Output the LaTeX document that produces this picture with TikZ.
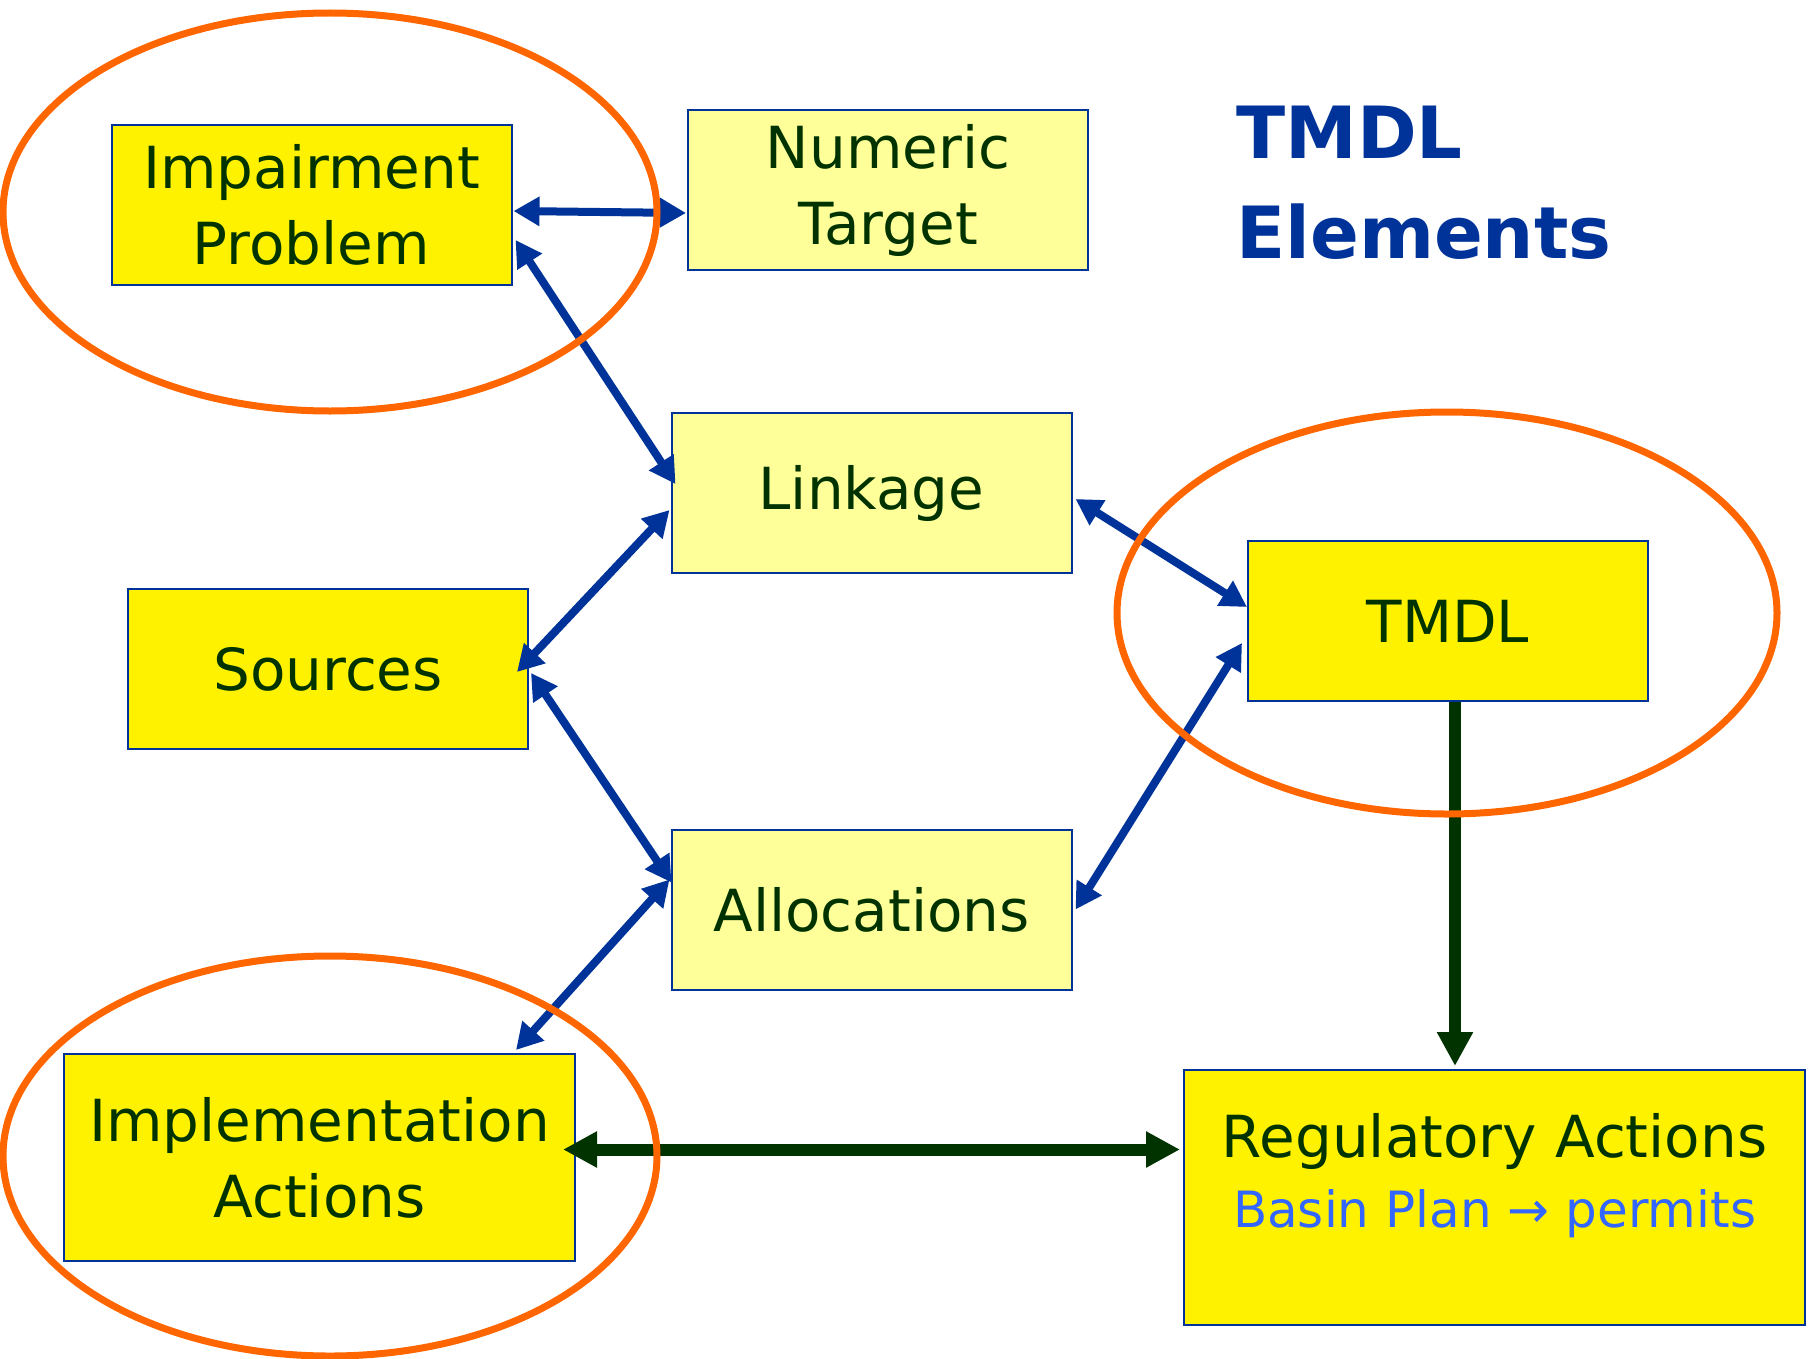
\documentclass[tikz,border=0pt]{standalone}
\usepackage{fontspec}
\setmainfont{DejaVu Sans}
\usetikzlibrary{arrows.meta,calc}

\definecolor{boxblue}{HTML}{003399}
\definecolor{textgreen}{HTML}{003300}
\definecolor{ringorange}{HTML}{FF6600}
\definecolor{paleyellow}{HTML}{FFFF99}
\definecolor{planblue}{HTML}{3366FF}

\tikzset{
  elembox/.style={draw=boxblue, line width=1pt, fill=#1, minimum width=200pt, minimum height=80pt,
    inner sep=0pt, align=center, text=textgreen, font=\fontsize{29}{38}\selectfont},
  elembox/.default=yellow,
  blueline/.style={draw=boxblue, line width=4pt,
    {Triangle[length=13pt,width=14pt]}-{Triangle[length=13pt,width=14pt]}},
  greenline/.style={draw=textgreen, line width=6pt},
  greentip/.tip={Triangle[length=17pt,width=17pt]},
  ring/.style={draw=ringorange, line width=3.5pt}
}

\begin{document}
\begin{tikzpicture}[x=0.5pt,y=-0.5pt]
  \useasboundingbox (0,0) rectangle (1814,1359);

  % boxes
  \node[elembox] (imp) at (311.5,205) {Impairment\\Problem};
  \node[elembox=paleyellow] (num) at (888,190) {Numeric\\Target};
  \node[elembox=paleyellow] (linkage) at (871.5,493) {Linkage};
  \node[elembox] (src) at (328,669) {Sources};
  \node[elembox] (tmdl) at (1448,621) {TMDL};
  \node[elembox=paleyellow] (alloc) at (871.5,909.5) {Allocations};
  \node[elembox, minimum width=255.5pt, minimum height=103.5pt] (impl) at (319.5,1157.5) {Implementation\\Actions};
  \node[elembox, minimum width=310.5pt, minimum height=127.5pt,
    label={[anchor=north, inner sep=0pt, yshift=-22pt, align=center, text=textgreen,
      font=\fontsize{29}{35}\selectfont]north:{Regulatory Actions\\{\color{planblue}\fontsize{25}{30}\selectfont Basin Plan → permits}}}] (reg) at (1494.5,1197.5) {};

  % title
  \node[anchor=north west, inner sep=0pt, align=left, text=boxblue,
    font=\fontsize{36}{50}\selectfont\bfseries] (title) at (1236,106) {TMDL\\Elements};

  % blue links
  \draw[blueline] ($(imp.east)+(1,6)$) -- ($(num.west)+(-1,23)$);
  \draw[blueline] ($(imp.east)+(3,35)$) -- ($(linkage.west)+(5,-9)$);
  \draw[blueline] ($(src.east)+(-12,3)$) -- ($(linkage.west)+(-1,17)$);
  \draw[blueline] ($(linkage.east)+(3,6)$) -- ($(tmdl.west)+(0,-14)$);
  \draw[blueline] ($(src.east)+(2,4)$) -- ($(alloc.west)+(1,-27)$);
  \draw[blueline] ($(alloc.east)+(3,0)$) -- ($(tmdl.west)+(-5,22)$);
  \draw[blueline] ($(alloc.west)+(-1,-30)$) -- ($(impl.north east)+(-60,-3)$);

  % green arrows
  \draw[greenline,-greentip] ($(tmdl.south)+(7,0)$) -- ($(reg.north)+(-39.5,-3)$);
  \draw[greenline,greentip-greentip] ($(impl.east)+(-13,-8)$) -- ($(reg.west)+(-3,-48)$);

  % rings
  \draw[ring] (330,212) ellipse [x radius=327, y radius=199];
  \draw[ring] (1447,613) ellipse [x radius=330, y radius=201];
  \draw[ring] (330,1156) ellipse [x radius=327, y radius=200];
\end{tikzpicture}
\end{document}
